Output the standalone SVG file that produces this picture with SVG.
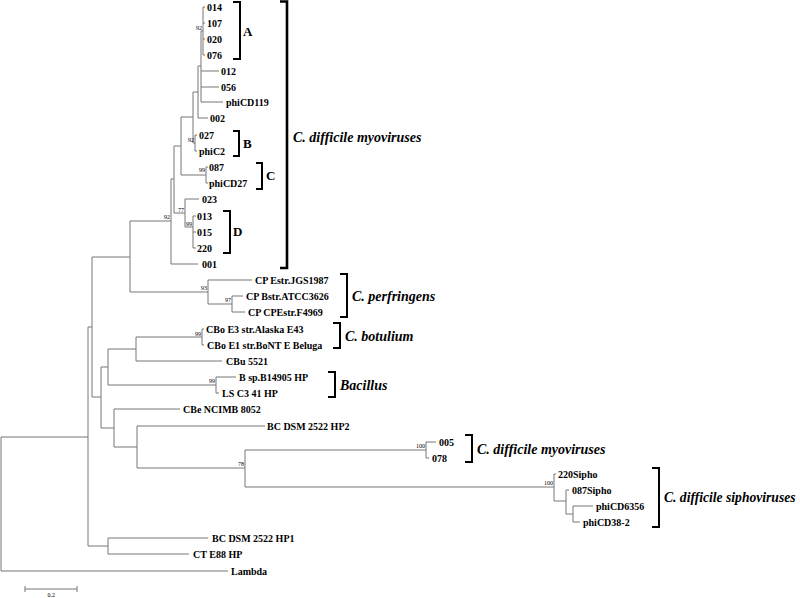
<svg xmlns="http://www.w3.org/2000/svg" width="800" height="598" viewBox="0 0 800 598">
<style>
.t{font-family:"Liberation Serif","Times New Roman",serif;font-size:10px;font-weight:bold;fill:#000}
.b{font-family:"Liberation Serif","Times New Roman",serif;font-size:6px;fill:#000;text-anchor:end}
.g{font-family:"Liberation Serif","Times New Roman",serif;font-size:13px;font-weight:bold;fill:#000}
.c{font-family:"Liberation Serif","Times New Roman",serif;font-size:14px;font-weight:bold;font-style:italic;fill:#000}
.e{fill:none;stroke:#777;stroke-width:1}
.k{fill:none;stroke:#000;stroke-width:2}
.K{fill:none;stroke:#000;stroke-width:2.6}
</style>
<rect width="800" height="598" fill="#fff"/>
<g id="connectors">
<path class="e" d="M1,437V571H228M1,437H88M88,327V546M88,327H92M92,257V397M92,257H130M130,221V292M130,221H171M171,179V264H198M171,179H174M174,146V213H185M185,199V227M185,199H199M185,227H193M193,216V248M193,216H196M193,232H196M193,248H196M174,146H181M181,117V175H206M206,167V183M206,167H208M206,183H208M181,117H193M193,92V143H195M195,135V151M195,135H197M195,151H197M193,92H198M198,66V118H208M198,66H201M201,31V102M201,71H219M201,87H219M201,102H223M201,31H203M203,7V55M203,7H205M203,23H205M203,39H205M203,55H205"/>
<path class="e" d="M130,292H208M208,280V304M208,280H252M208,304H232M232,296V312M232,296H243M232,312H245"/>
<path class="e" d="M92,397H101M101,367V428M101,367H108M108,349V385M108,349H136M136,337V361H222M136,337H202M202,329V345M202,329H204M202,345H204M108,385H216M216,377V393M216,377H236M216,393H219"/>
<path class="e" d="M101,428H114M114,409V447M114,409H180M114,447H137M137,426V468M137,426H265M137,468H245M245,450V487M245,450H426M426,442V458M426,442H436M426,458H429M245,487H554M554,474V501M554,474H556M554,501H566M566,490V514M566,490H569M566,514H573M573,506V522M573,506H593M573,522H580"/>
<path class="e" d="M88,546H108M108,538V554M108,538H208M108,554H189"/>
</g>
<g id="bootstrap">
<text class="b" x="202" y="30">92</text>
<text class="b" x="194" y="142">92</text>
<text class="b" x="205" y="172">99</text>
<text class="b" x="184" y="212">77</text>
<text class="b" x="192" y="226">99</text>
<text class="b" x="170" y="219">92</text>
<text class="b" x="207" y="290">93</text>
<text class="b" x="231" y="302">97</text>
<text class="b" x="201" y="336">99</text>
<text class="b" x="215" y="383">99</text>
<text class="b" x="244" y="466">78</text>
<text class="b" x="425" y="448">100</text>
<text class="b" x="553" y="485">100</text>
</g>
<g id="n014"><text class="t" x="207" y="10.5">014</text></g>
<g id="n107"><text class="t" x="207" y="26.5">107</text></g>
<g id="n020"><text class="t" x="207" y="42.5">020</text></g>
<g id="n076"><text class="t" x="207" y="58.5">076</text></g>
<g id="n012"><text class="t" x="221" y="74.5">012</text></g>
<g id="n056"><text class="t" x="221" y="90.5">056</text></g>
<g id="nphiCD119"><text class="t" x="226" y="105.5">phiCD119</text></g>
<g id="n002"><text class="t" x="210" y="121.5">002</text></g>
<g id="n027"><text class="t" x="199" y="138.5">027</text></g>
<g id="nphiC2"><text class="t" x="199" y="154.5">phiC2</text></g>
<g id="n087"><text class="t" x="209" y="170.5">087</text></g>
<g id="nphiCD27"><text class="t" x="209" y="186.5">phiCD27</text></g>
<g id="n023"><text class="t" x="202" y="202.5">023</text></g>
<g id="n013"><text class="t" x="197" y="219.5">013</text></g>
<g id="n015"><text class="t" x="197" y="235.5">015</text></g>
<g id="n220"><text class="t" x="197" y="251.5">220</text></g>
<g id="n001"><text class="t" x="202" y="267.5">001</text></g>
<g id="nCPE"><text class="t" x="255" y="283.5">CP Estr.JGS1987</text></g>
<g id="nCPB"><text class="t" x="246" y="299.5">CP Bstr.ATCC3626</text></g>
<g id="nCPC"><text class="t" x="248" y="315.5">CP CPEstr.F4969</text></g>
<g id="nCBoE3"><text class="t" x="206" y="332.5">CBo E3 str.Alaska E43</text></g>
<g id="nCBoE1"><text class="t" x="207" y="348.5">CBo E1 str.BoNT E Beluga</text></g>
<g id="nCBu"><text class="t" x="226" y="364.5">CBu 5521</text></g>
<g id="nBsp"><text class="t" x="239" y="380.5">B sp.B14905 HP</text></g>
<g id="nLS"><text class="t" x="222" y="396.5">LS C3 41 HP</text></g>
<g id="nCBe"><text class="t" x="183" y="412.5">CBe NCIMB 8052</text></g>
<g id="nHP2"><text class="t" x="267" y="429.5">BC DSM 2522 HP2</text></g>
<g id="n005"><text class="t" x="439" y="445.5">005</text></g>
<g id="n078"><text class="t" x="432" y="461.5">078</text></g>
<g id="n220S"><text class="t" x="558" y="477.5">220Sipho</text></g>
<g id="n087S"><text class="t" x="572" y="493.5">087Sipho</text></g>
<g id="nphiCD6356"><text class="t" x="596" y="509.5">phiCD6356</text></g>
<g id="nphiCD38"><text class="t" x="583" y="525.5">phiCD38-2</text></g>
<g id="nHP1"><text class="t" x="212" y="541.5">BC DSM 2522 HP1</text></g>
<g id="nCT"><text class="t" x="193" y="557.5">CT E88 HP</text></g>
<g id="nLambda"><text class="t" x="231" y="574.5">Lambda</text></g>
<g id="gA"><path class="k" d="M233,2H240V59H233"/><text class="g" x="243" y="36">A</text></g>
<g id="gB"><path class="k" d="M233,131H239V156H233"/><text class="g" x="243" y="148">B</text></g>
<g id="gC"><path class="k" d="M256,163H262V189H256"/><text class="g" x="266" y="180">C</text></g>
<g id="gD"><path class="k" d="M223,211H230V253H223"/><text class="g" x="233" y="236">D</text></g>
<g id="gMyo1"><path class="K" d="M280,1.5H287V268H280"/><text class="c" x="293" y="142">C. difficile myoviruses</text></g>
<g id="gPerf"><path class="k" d="M340,274H347V317H340"/><text class="c" x="352" y="301">C. perfringens</text></g>
<g id="gBot"><path class="k" d="M333,323H340V348H333"/><text class="c" x="345" y="341">C. botulium</text></g>
<g id="gBac"><path class="k" d="M328,372H335V397H328"/><text class="c" x="340" y="390">Bacillus</text></g>
<g id="gMyo2"><path class="k" d="M465,435H472V462H465"/><text class="c" x="477" y="454">C. difficile myoviruses</text></g>
<g id="gSipho"><path class="k" d="M652,468H659V527H652"/><text class="c" x="664" y="502" style="font-size:13.6px">C. difficile siphoviruses</text></g>
<g id="scale"><path class="e" d="M25,589H77M25,586V592M77,586V592"/><text class="b" x="55" y="597">0.2</text></g>
</svg>
